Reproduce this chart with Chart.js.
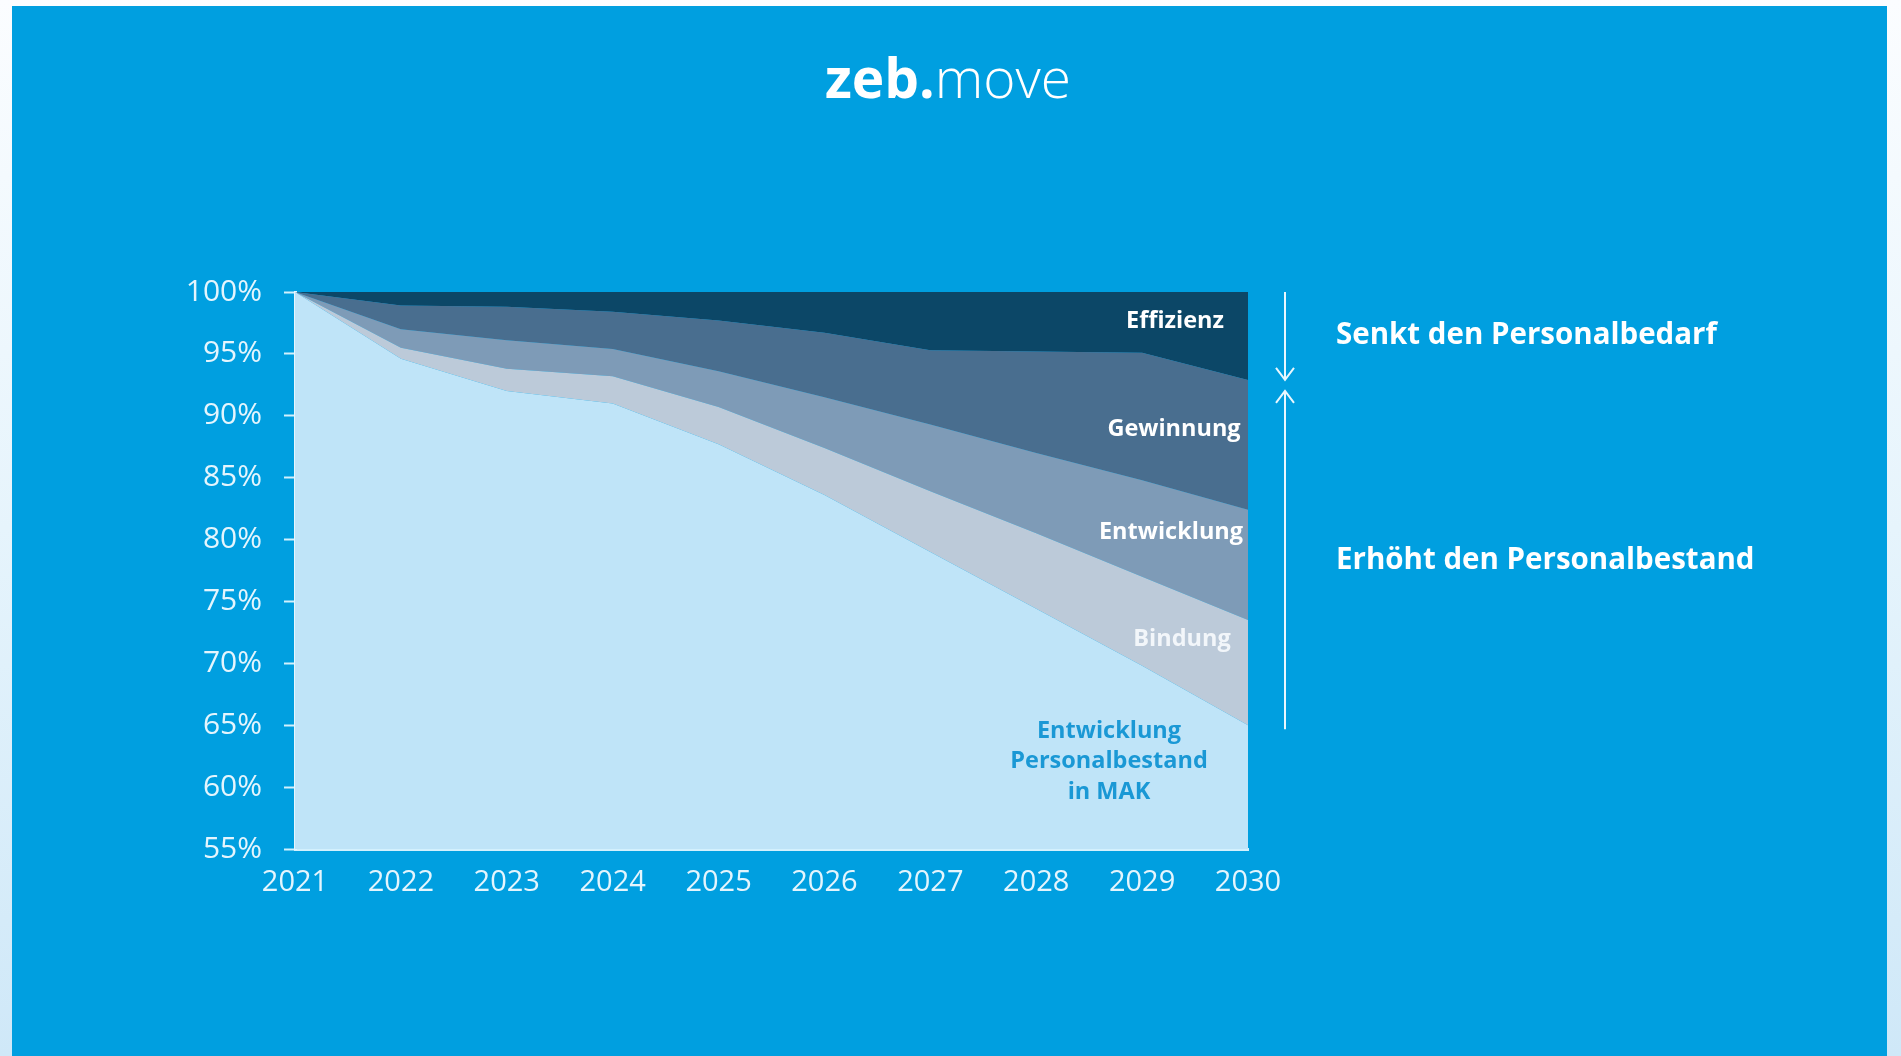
<!DOCTYPE html>
<html>
<head>
<meta charset="utf-8">
<script src="https://cdn.jsdelivr.net/npm/chart.js@4.4.1/dist/chart.umd.min.js"></script>
<style>
  html, body { margin: 0; padding: 0; }
  body { width: 1901px; height: 1056px; overflow: hidden;
         background: linear-gradient(to bottom, #fbfdff 0%, #e6f4fc 50%, #cfe8f8 100%); position: relative; }
  #panel { position: absolute; left: 12px; top: 6px; width: 1875px; height: 1050px; background: #009fe0; }
  #wrap { position: absolute; left: 0; top: 0; width: 1901px; height: 1056px; }
</style>
</head>
<body>
<div id="panel"></div>
<div id="wrap"><canvas id="c" width="1901" height="1056"></canvas></div>
<script>
// ---- data ----
const years = ['2021','2022','2023','2024','2025','2026','2027','2028','2029','2030'];
// upper boundary of each stacked layer (share of 2021 level, in %)
const personalbestand = [100, 94.6, 92.0, 91.0, 87.7, 83.6, 79.0, 74.4, 69.8, 65.0];
const bindung         = [100, 95.5, 93.8, 93.2, 90.7, 87.4, 83.9, 80.5, 77.0, 73.5];
const entwicklung     = [100, 97.0, 96.1, 95.4, 93.6, 91.5, 89.3, 87.0, 84.8, 82.4];
const gewinnung       = [100, 98.9, 98.8, 98.4, 97.7, 96.7, 95.3, 95.2, 95.1, 92.9];
const effizienz       = [100, 100, 100, 100, 100, 100, 100, 100, 100, 100];
const yTicks = [55, 60, 65, 70, 75, 80, 85, 90, 95, 100];

const FONT = "'Open Sans', 'Noto Sans', 'DejaVu Sans', sans-serif";

const overlay = {
  id: 'overlay',
  afterDraw(chart) {
    const ctx = chart.ctx;
    const y = chart.scales.y;
    ctx.save();
    // title
    ctx.textBaseline = 'middle';
    ctx.fillStyle = '#ffffff';
    ctx.font = "700 55px " + FONT;
    const w1 = ctx.measureText('zeb.').width;
    ctx.font = "300 55px " + FONT;
    const w2 = ctx.measureText('move').width;
    const tx = 948 - (w1 + w2) / 2;
    ctx.textAlign = 'left';
    ctx.font = "700 55px " + FONT;
    ctx.fillText('zeb.', tx, 82);
    ctx.font = "300 55px " + FONT;
    ctx.fillText('move', tx + w1, 82);

    // layer labels
    ctx.textAlign = 'center';
    ctx.font = "700 23.5px " + FONT;
    ctx.fillStyle = '#ffffff';
    ctx.fillText('Effizienz', 1175, 321);
    ctx.fillText('Gewinnung', 1174, 429);
    ctx.fillText('Entwicklung', 1171, 532);
    ctx.fillStyle = '#f2f6fa';
    ctx.fillText('Bindung', 1182, 639);
    ctx.fillStyle = '#1a98d5';
    ctx.fillText('Entwicklung', 1109, 731);
    ctx.fillText('Personalbestand', 1109, 761);
    ctx.fillText('in MAK', 1109, 792);

    // right side texts
    ctx.textAlign = 'left';
    ctx.fillStyle = '#ffffff';
    ctx.font = "700 29.5px " + FONT;
    ctx.fillText('Senkt den Personalbedarf', 1336, 336);
    ctx.fillText('Erhöht den Personalbestand', 1336, 561);

    // arrows
    const ax = 1285;
    const n = years.length - 1;
    const topA = y.getPixelForValue(effizienz[n]);
    const tipDown = y.getPixelForValue(gewinnung[n]);
    const bottomA = y.getPixelForValue(personalbestand[n]) + 4;
    const tipUp = tipDown + 11;
    ctx.strokeStyle = '#e8f7fe';
    ctx.lineWidth = 2;
    ctx.beginPath();
    ctx.moveTo(ax, topA); ctx.lineTo(ax, tipDown);
    ctx.moveTo(ax - 9, tipDown - 12); ctx.lineTo(ax, tipDown); ctx.lineTo(ax + 9, tipDown - 12);
    ctx.moveTo(ax, bottomA); ctx.lineTo(ax, tipUp);
    ctx.moveTo(ax - 9, tipUp + 12); ctx.lineTo(ax, tipUp); ctx.lineTo(ax + 9, tipUp + 12);
    ctx.stroke();
    ctx.restore();
  }
};

function layer(label, data, color, fill) {
  return { label, data, backgroundColor: color, borderWidth: 0, pointRadius: 0,
           fill, tension: 0 };
}

new Chart(document.getElementById('c'), {
  type: 'line',
  data: {
    labels: years,
    datasets: [
      layer('Entwicklung Personalbestand in MAK', personalbestand, '#bfe4f8', 'start'),
      layer('Bindung', bindung, '#bccad9', '-1'),
      layer('Entwicklung', entwicklung, '#7e9bb7', '-1'),
      layer('Gewinnung', gewinnung, '#496e8f', '-1'),
      layer('Effizienz', effizienz, '#0c4767', '-1')
    ]
  },
  options: {
    responsive: false,
    animation: false,
    layout: { padding: { left: 0, top: 292, right: 653, bottom: 0 } },
    plugins: { legend: { display: false }, tooltip: { enabled: false }, filler: { propagate: false } },
    scales: {
      x: {
        type: 'category',
        offset: false,
        grid: { display: true, drawOnChartArea: false, drawTicks: false },
        border: { display: true, color: '#d3f0fd', width: 3 },
        ticks: { color: '#e4f5fd', font: { family: FONT, size: 29 }, padding: 16, maxRotation: 0, autoSkip: false },
        afterFit(s) { s.height = 207; }
      },
      y: {
        min: 55, max: 100,
        afterBuildTicks(s) { s.ticks = yTicks.map(v => ({ value: v })); },
        grid: { drawOnChartArea: false, drawTicks: true, tickLength: 11, tickColor: '#d3f0fd', tickWidth: 2 },
        border: { display: true, color: '#e6f6fe', width: 3 },
        ticks: { color: '#e4f5fd', font: { family: FONT, size: 30 }, padding: 22,
                 callback: v => v + '%' },
        afterFit(s) { s.width = 295; }
      }
    }
  },
  plugins: [overlay]
});
</script>
</body>
</html>
